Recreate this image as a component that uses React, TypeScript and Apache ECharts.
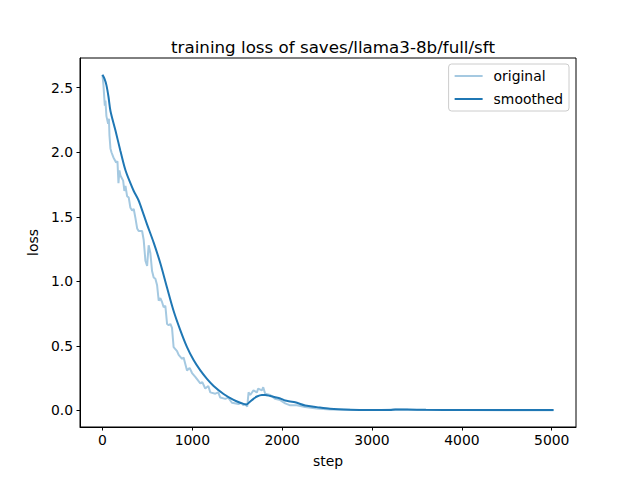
import React, { useEffect, useRef } from "react";
import * as echarts from "echarts";

const origSteps = [0, 11, 26, 33, 44, 63, 72, 78, 89, 100, 122, 152, 167, 178, 189, 200, 230, 244, 256, 274, 292, 311, 330, 348, 367, 386, 403, 441, 459, 478, 497, 514, 533, 552, 570, 589, 608, 626, 644, 663, 681, 700, 719, 737, 756, 774, 792, 830, 848, 886, 903, 922, 941, 970, 997, 1033, 1089, 1111, 1144, 1178, 1200, 1256, 1289, 1311, 1367, 1400, 1441, 1514, 1544, 1570, 1589, 1611, 1626, 1644, 1681, 1719, 1733, 1774, 1789, 1811, 1867, 1922, 1978, 2033, 2089, 2163, 2256, 2385, 2533, 2756, 2978, 3100, 3250, 3400, 3600, 4000, 4500, 5020];
const origLoss = [2.60, 2.52, 2.36, 2.40, 2.28, 2.22, 2.26, 2.13, 2.03, 2.00, 1.96, 1.92, 1.93, 1.76, 1.86, 1.82, 1.78, 1.70, 1.74, 1.66, 1.65, 1.57, 1.55, 1.56, 1.49, 1.41, 1.39, 1.39, 1.32, 1.16, 1.12, 1.28, 1.22, 1.08, 1.03, 1.02, 0.97, 0.85, 0.87, 0.84, 0.80, 0.81, 0.67, 0.66, 0.67, 0.64, 0.49, 0.46, 0.43, 0.40, 0.41, 0.36, 0.31, 0.33, 0.29, 0.26, 0.21, 0.22, 0.17, 0.19, 0.14, 0.13, 0.14, 0.10, 0.09, 0.10, 0.06, 0.05, 0.06, 0.04, 0.05, 0.03, 0.14, 0.12, 0.155, 0.14, 0.17, 0.155, 0.18, 0.13, 0.12, 0.09, 0.08, 0.055, 0.04, 0.04, 0.027, 0.015, 0.008, 0.005, 0.003, 0.003, 0.008, 0.006, 0.004, 0.003, 0.002, 0.002];

const smSteps = [0, 22, 44, 67, 89, 144, 200, 256, 311, 348, 400, 422, 497, 570, 644, 719, 792, 867, 941, 1014, 1089, 1163, 1237, 1348, 1459, 1533, 1600, 1644, 1681, 1719, 1774, 1811, 1867, 1922, 1978, 2033, 2089, 2144, 2256, 2385, 2533, 2756, 2978, 3200, 3260, 3400, 3600, 4000, 4500, 5020];
const smLoss = [2.60, 2.57, 2.52, 2.43, 2.32, 2.17, 2.01, 1.86, 1.76, 1.70, 1.63, 1.59, 1.44, 1.30, 1.14, 0.95, 0.77, 0.62, 0.49, 0.39, 0.31, 0.245, 0.19, 0.128, 0.082, 0.06, 0.046, 0.07, 0.09, 0.108, 0.12, 0.12, 0.112, 0.103, 0.093, 0.077, 0.07, 0.064, 0.039, 0.026, 0.013, 0.006, 0.004, 0.004, 0.008, 0.007, 0.005, 0.004, 0.003, 0.003];

const xTicks = [0, 1000, 2000, 3000, 4000, 5000];
const yTicks = [0, 0.5, 1.0, 1.5, 2.0, 2.5];

const titleText = "training loss of saves/llama3-8b/full/sft";
const seriesNames = ["original", "smoothed"];

const FONT = "DejaVu Sans";

export default function App() {
  const ref = useRef<HTMLDivElement>(null);
  useEffect(() => {
    if (!ref.current) return;
    const chart = echarts.init(ref.current, null, { renderer: "svg" });
    const origData = origSteps.map((s, i) => [s, origLoss[i]]);
    const smData = smSteps.map((s, i) => [s, smLoss[i]]);
    chart.setOption({
      animation: false,
      backgroundColor: "#ffffff",
      title: {
        text: titleText,
        left: 328,
        textAlign: "center",
        top: 33,
        textStyle: { fontFamily: FONT, fontSize: 16.7, fontWeight: "normal", color: "#000" },
      },
      legend: {
        orient: "vertical",
        right: 71,
        top: 64,
        data: seriesNames.map((n) => ({ name: n, icon: "rect" })),
        itemWidth: 28,
        itemHeight: 2,
        itemGap: 9,
        padding: [5, 6, 5, 6],
        backgroundColor: "rgba(255,255,255,0.8)",
        borderColor: "#cccccc",
        borderWidth: 1,
        borderRadius: 3,
        textStyle: { fontFamily: FONT, fontSize: 13.9, color: "#000", padding: [0, 0, 0, 6], lineHeight: 14 },
      },
      grid: {
        left: 80,
        right: 64,
        top: 58,
        bottom: 53,
        show: true,
        borderColor: "#000",
        borderWidth: 1,
        backgroundColor: "transparent",
        containLabel: false,
        outerBoundsMode: "none",
      },
      xAxis: {
        type: "value",
        min: -250,
        max: 5270,
        name: "step",
        nameLocation: "middle",
        nameGap: 27,
        nameTextStyle: { fontFamily: FONT, fontSize: 13.9, color: "#000" },
        splitLine: { show: false },
        axisLine: { show: true, onZero: false, lineStyle: { color: "#000", width: 1 } },
        axisTick: { show: true, length: 3.5, customValues: xTicks, lineStyle: { color: "#000" } },
        axisLabel: {
          customValues: xTicks,
          margin: 6,
          fontFamily: FONT,
          fontSize: 13.9,
          color: "#000",
          formatter: (v: number) => String(v),
        },
      },
      yAxis: {
        type: "value",
        min: -0.128,
        max: 2.73,
        name: "loss",
        nameLocation: "middle",
        nameGap: 37,
        nameTextStyle: { fontFamily: FONT, fontSize: 13.9, color: "#000" },
        splitLine: { show: false },
        axisLine: { show: true, onZero: false, lineStyle: { color: "#000", width: 1 } },
        axisTick: { show: true, length: 3.5, customValues: yTicks, lineStyle: { color: "#000" } },
        axisLabel: {
          customValues: yTicks,
          margin: 7,
          fontFamily: FONT,
          fontSize: 13.9,
          color: "#000",
          formatter: (v: number) => v.toFixed(1),
        },
      },
      series: [
        {
          name: seriesNames[0],
          type: "line",
          data: origData,
          symbol: "none",
          color: "#a5c9e1",
          lineStyle: { color: "#a5c9e1", width: 2 },
          z: 2,
        },
        {
          name: seriesNames[1],
          type: "line",
          data: smData,
          symbol: "none",
          smooth: 0.3,
          color: "#1f77b4",
          lineStyle: { color: "#1f77b4", width: 2 },
          z: 3,
        },
      ],
    });
    return () => chart.dispose();
  }, []);
  return (
    <div
      ref={ref}
      style={{ position: "fixed", left: 0, top: 0, width: 640, height: 480, background: "#fff" }}
    />
  );
}
